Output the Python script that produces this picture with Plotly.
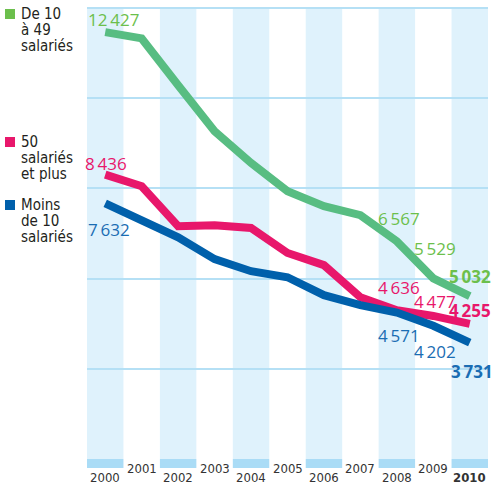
import plotly.graph_objects as go

# données
years = [2000, 2001, 2002, 2003, 2004, 2005, 2006, 2007, 2008, 2009, 2010]
de_10_a_49 = [12427, 12250, 10940, 9650, 8760, 7970, 7550, 7300, 6567, 5529, 5032]
plus_de_50 = [8436, 8110, 6990, 7020, 6940, 6240, 5900, 5000, 4636, 4477, 4255]
moins_de_10 = [7632, 7160, 6680, 6070, 5730, 5560, 5060, 4780, 4571, 4202, 3731]
series_names = ["De 10 à 49 salariés", "50 salariés et plus", "Moins de 10 salariés"]
label_years = [2000, 2008, 2009, 2010]

# style
W, H = 491, 486
L, R, T, B = 87, 3, 7, 27
PW, PH = W - L - R, H - T - B
line_cols = ["#58bd82", "#e8176b", "#0060ab"]
label_cols = ["#6cbf4c", "#e8176b", "#1a6db3"]
legend_cols = ["#6cbf4c", "#e8176b", "#0060ab"]
stripe = "#dff2fc"
stripe_dark = "#aadcf6"
grid = "#b5e0f5"
txt = "#231f20"
NUM_FONT = "Open Sans"
NARROW = "Liberation Sans Narrow, DejaVu Sans Condensed, sans-serif"


def px(x, y):
    # pixels -> coordonnées paper
    return (x - L) / PW, (H - B - y) / PH


def fmt(v):
    s = f"{v:,}"
    return s.replace(",", "\u2009")


fig = go.Figure()

for vals, name, col in zip([de_10_a_49, plus_de_50, moins_de_10], series_names, line_cols):
    fig.add_trace(go.Scatter(x=years, y=vals, mode="lines", name=name,
                             line=dict(color=col, width=8), showlegend=False))

# bandes verticales (années paires)
for yr in years[::2]:
    fig.add_shape(type="rect", xref="x", yref="paper", x0=yr - 0.5, x1=yr + 0.5,
                  y0=0, y1=1, fillcolor=stripe, line_width=0, layer="below")
    fig.add_shape(type="rect", xref="x", yref="paper", x0=yr - 0.5, x1=yr + 0.5,
                  y0=-9 / PH, y1=0, fillcolor=stripe_dark, line_width=0, layer="below")

# étiquettes des années
for i, yr in enumerate(years):
    _, yy = px(0, 477 if i % 2 == 0 else 469)
    label = f"<b>{yr}</b>" if yr == years[-1] else str(yr)
    fig.add_annotation(x=yr, y=yy, xref="x", yref="paper", text=label, showarrow=False,
                       xanchor="center", yanchor="middle",
                       font=dict(family=NARROW, size=13, color="#333333"))

# étiquettes des valeurs
label_pos = [
    [(87, 19), (377, 218), (413, 248), (448, 276)],
    [(84, 163), (377, 287), (413, 301), (448, 311)],
    [(87, 229), (377, 335), (413, 351), (450, 371)],
]
for vals, col, poss in zip([de_10_a_49, plus_de_50, moins_de_10], label_cols, label_pos):
    for yr, (lx, ly) in zip(label_years, poss):
        v = vals[years.index(yr)]
        t = fmt(v)
        if yr == years[-1]:
            t = f"<b>{t}</b>"
        xx, yy = px(lx, ly)
        fig.add_annotation(x=xx, y=yy, xref="paper", yref="paper", text=t, showarrow=False,
                           xanchor="left", yanchor="middle", borderpad=0,
                           font=dict(family=NUM_FONT, size=17, color=col))

# légende manuelle
legend_lines = [["De 10", "à 49", "salariés"], ["50", "salariés", "et plus"], ["Moins", "de 10", "salariés"]]
legend_top = [9, 137, 200]
for lines, col, top in zip(legend_lines, legend_cols, legend_top):
    x0, y0 = px(5, top)
    x1, y1 = px(15, top + 10)
    fig.add_shape(type="rect", xref="paper", yref="paper", x0=x0, x1=x1, y0=y1, y1=y0,
                  fillcolor=col, line_width=0)
    for j, s in enumerate(lines):
        xx, yy = px(20, top + 5 + 16 * j)
        fig.add_annotation(x=xx, y=yy, xref="paper", yref="paper", text=s, showarrow=False,
                           xanchor="left", yanchor="middle", borderpad=0,
                           font=dict(family=NARROW, size=15, color=txt))

fig.update_layout(width=W, height=H, margin=dict(l=L, r=R, t=T, b=B),
                  plot_bgcolor="white", paper_bgcolor="white")
fig.update_xaxes(range=[1999.5, 2010.5], showgrid=False, showticklabels=False,
                 zeroline=False, showline=False)
fig.update_yaxes(range=[470, 13130], tick0=470, dtick=2526, showgrid=True,
                 gridcolor=grid, gridwidth=1.5, showticklabels=False, zeroline=False,
                 showline=False)

fig.write_html("out.html", config={"displayModeBar": False},
               post_script="document.body.style.margin='0';")
